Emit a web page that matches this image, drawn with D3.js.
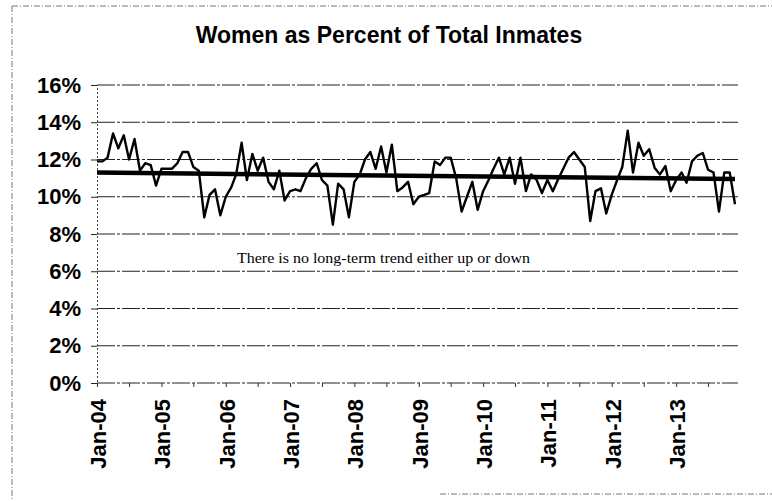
<!DOCTYPE html>
<html>
<head>
<meta charset="utf-8">
<title>Women as Percent of Total Inmates</title>
<script src="https://cdn.jsdelivr.net/npm/d3@7"></script>
<style>
  body { margin: 0; background: #fff; }
  svg { display: block; }
  .lbl { font-family: "Liberation Sans", Arial, sans-serif; font-weight: bold; fill: #000; }
</style>
</head>
<body>
<script>
  // women as % of all inmates, one value per month, Jan 2004 .. Dec 2013
  var pct = [
    11.9, 11.9, 12.1, 13.4, 12.6, 13.3, 12.0, 13.1, 11.4, 11.8, 11.7, 10.6,
    11.5, 11.5, 11.5, 11.8, 12.4, 12.4, 11.6, 11.4, 8.9, 10.1, 10.4, 9.0,
    10.0, 10.5, 11.2, 12.9, 10.9, 12.3, 11.4, 12.1, 10.8, 10.4, 11.4, 9.8,
    10.3, 10.4, 10.3, 11.0, 11.5, 11.8, 10.9, 10.6, 8.5, 10.7, 10.4, 8.9,
    10.8, 11.2, 12.0, 12.4, 11.5, 12.7, 11.3, 12.8, 10.3, 10.5, 10.8, 9.6,
    10.0, 10.1, 10.2, 11.9, 11.7, 12.1, 12.1, 11.0, 9.2, 10.0, 10.8, 9.3,
    10.3, 10.9, 11.5, 12.1, 11.2, 12.1, 10.7, 12.1, 10.3, 11.2, 10.9, 10.2,
    10.9, 10.3, 10.9, 11.5, 12.1, 12.4, 12.0, 11.6, 8.7, 10.3, 10.45, 9.1,
    10.1, 10.9, 11.6, 13.55, 11.3, 12.9, 12.2, 12.55, 11.55, 11.2, 11.65, 10.3,
    10.9, 11.3, 10.75, 11.9, 12.2, 12.35, 11.45, 11.3, 9.2, 11.3, 11.3, 9.6
  ];
  var firstMonth = new Date(2004, 0, 1);

  // linear trend, start and end value
  var trend = [11.3, 10.95];

  var yTicks = [0, 2, 4, 6, 8, 10, 12, 14, 16];
  var title = "Women as Percent of Total Inmates";
  var note = "There is no long-term trend either up or down";

  var W = 772, H = 501;
  var svg = d3.select("body").append("svg")
      .attr("width", W)
      .attr("height", H);

  var months = pct.map(function(v, i) { return d3.timeMonth.offset(firstMonth, i); });

  var x = d3.scaleTime()
      .domain([months[0], months[months.length - 1]])
      .range([97, 735]);

  var y = d3.scaleLinear()
      .domain([0, 16])
      .range([383, 85]);

  // scanned page frame
  var frame = svg.append("g")
      .attr("stroke", "#777")
      .attr("stroke-width", 1)
      .attr("stroke-dasharray", "6,2,1,2")
      .attr("fill", "none");
  frame.append("line").attr("x1", 12).attr("y1", 6).attr("x2", 772).attr("y2", 6);
  frame.append("line").attr("x1", 12).attr("y1", 6).attr("x2", 12).attr("y2", 501);
  frame.append("line").attr("x1", 440).attr("y1", 494).attr("x2", 772).attr("y2", 494);

  // title
  svg.append("text")
      .attr("class", "lbl")
      .attr("x", 389)
      .attr("y", 43)
      .attr("text-anchor", "middle")
      .style("font-size", "23px")
      .text(title);

  // horizontal gridlines
  svg.append("g")
      .selectAll("line")
      .data(yTicks)
      .enter().append("line")
      .attr("x1", 97)
      .attr("x2", 738)
      .attr("y1", function(d) { return y(d); })
      .attr("y2", function(d) { return y(d); })
      .attr("stroke", "#222")
      .attr("stroke-width", 1.2)
      .attr("stroke-dasharray", "18,2,3,2");

  // y axis
  var yAxis = svg.append("g")
      .attr("transform", "translate(97,0)")
      .call(d3.axisLeft(y)
        .tickValues(yTicks)
        .tickSize(6)
        .tickPadding(10)
        .tickFormat(function(d) { return d + "%"; }));
  yAxis.select(".domain")
      .attr("stroke", "#444")
      .attr("stroke-dasharray", "2,2");
  yAxis.selectAll(".tick line").attr("stroke", "#222");
  yAxis.selectAll("text")
      .attr("class", "lbl")
      .style("font-size", "22px");

  // x axis ticks every six months
  var xAxis = svg.append("g")
      .attr("transform", "translate(0," + y(0) + ")")
      .call(d3.axisBottom(x)
        .ticks(d3.timeMonth.every(6))
        .tickSize(4)
        .tickFormat(""));
  xAxis.select(".domain").remove();
  xAxis.selectAll(".tick line").attr("stroke", "#333");

  // January labels, rotated
  var jans = months.filter(function(d) { return d.getMonth() === 0; });
  svg.append("g")
      .selectAll("text")
      .data(jans)
      .enter().append("text")
      .attr("class", "lbl")
      .style("font-size", "22px")
      .attr("text-anchor", "end")
      .attr("dy", "0.36em")
      .attr("transform", function(d) { return "translate(" + (x(d) + 1) + ",399) rotate(-90)"; })
      .text(d3.timeFormat("%b-%y"));

  // trend line
  svg.append("line")
      .attr("x1", x(months[0]))
      .attr("x2", x(months[months.length - 1]))
      .attr("y1", y(trend[0]))
      .attr("y2", y(trend[1]))
      .attr("stroke", "#000")
      .attr("stroke-width", 4.5);

  // monthly series
  var line = d3.line()
      .x(function(d, i) { return x(months[i]); })
      .y(function(d) { return y(d); });

  svg.append("path")
      .datum(pct)
      .attr("d", line)
      .attr("fill", "none")
      .attr("stroke", "#000")
      .attr("stroke-width", 2.4)
      .attr("stroke-linejoin", "round");

  // annotation
  svg.append("text")
      .attr("x", 237)
      .attr("y", 263)
      .attr("textLength", 293)
      .attr("lengthAdjust", "spacingAndGlyphs")
      .style("font-family", "'Liberation Serif', 'Times New Roman', serif")
      .style("font-size", "15px")
      .text(note);
</script>
</body>
</html>
